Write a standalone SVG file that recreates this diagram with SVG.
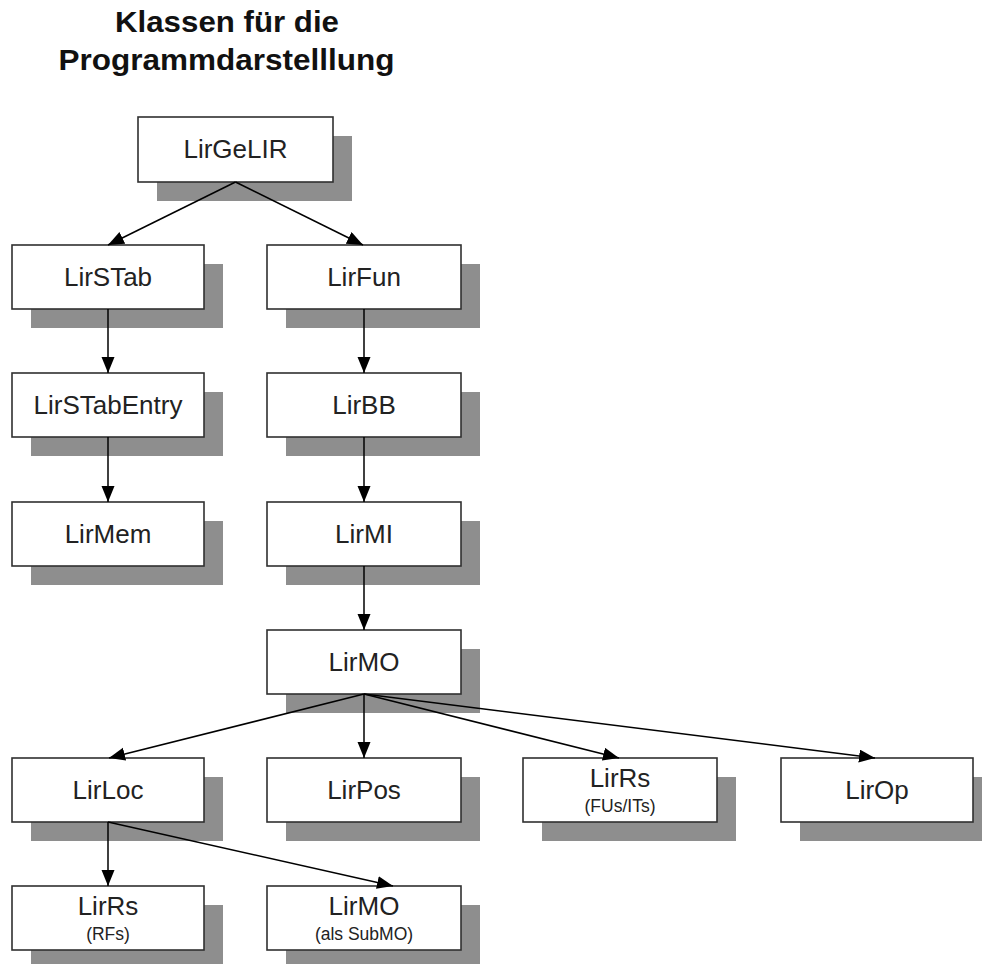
<svg xmlns="http://www.w3.org/2000/svg" width="982" height="964" viewBox="0 0 982 964">
  <style>
    .shadow { fill: #8e8e8e; }
    .box { fill: #ffffff; stroke: #303030; stroke-width: 1.6; }
    .label { font-family: "Liberation Sans", Arial, sans-serif; font-size: 26px; fill: #222222; text-anchor: middle; }
    .sub { font-family: "Liberation Sans", Arial, sans-serif; font-size: 17.5px; fill: #222222; text-anchor: middle; }
    .title { font-family: "Liberation Sans", Arial, sans-serif; font-size: 29px; font-weight: bold; fill: #111111; text-anchor: middle; }
    .edge { fill: none; stroke: #000000; stroke-width: 1.5; marker-end: url(#arrow); }
  </style>
  <defs>
    <marker id="arrow" markerUnits="userSpaceOnUse" markerWidth="17" markerHeight="14" refX="16" refY="6.5" orient="auto">
      <path d="M0,0 L16,6.5 L0,13 Z" fill="#000000"/>
    </marker>
  </defs>

  <rect width="982" height="964" fill="#ffffff"/>

  <g id="title">
    <text class="title" x="227" y="32" textLength="224" lengthAdjust="spacingAndGlyphs">Klassen für die</text>
    <text class="title" x="226.5" y="70" textLength="336" lengthAdjust="spacingAndGlyphs">Programmdarstelllung</text>
  </g>

  <g id="nodes">
    <g id="LirGeLIR">
      <rect class="shadow" x="157" y="136" width="195" height="65"/>
      <rect class="box" x="138" y="117" width="195" height="65"/>
      <text class="label" x="235.5" y="158">LirGeLIR</text>
    </g>
    <g id="LirSTab">
      <rect class="shadow" x="31" y="264" width="192" height="64"/>
      <rect class="box" x="12" y="245" width="192" height="64"/>
      <text class="label" x="108" y="286">LirSTab</text>
    </g>
    <g id="LirFun">
      <rect class="shadow" x="286" y="264" width="194" height="64"/>
      <rect class="box" x="267" y="245" width="194" height="64"/>
      <text class="label" x="364" y="286">LirFun</text>
    </g>
    <g id="LirSTabEntry">
      <rect class="shadow" x="31" y="392" width="192" height="64"/>
      <rect class="box" x="12" y="373" width="192" height="64"/>
      <text class="label" x="108" y="414">LirSTabEntry</text>
    </g>
    <g id="LirBB">
      <rect class="shadow" x="286" y="392" width="194" height="64"/>
      <rect class="box" x="267" y="373" width="194" height="64"/>
      <text class="label" x="364" y="414">LirBB</text>
    </g>
    <g id="LirMem">
      <rect class="shadow" x="31" y="521" width="192" height="64"/>
      <rect class="box" x="12" y="502" width="192" height="64"/>
      <text class="label" x="108" y="543">LirMem</text>
    </g>
    <g id="LirMI">
      <rect class="shadow" x="286" y="521" width="194" height="64"/>
      <rect class="box" x="267" y="502" width="194" height="64"/>
      <text class="label" x="364" y="543">LirMI</text>
    </g>
    <g id="LirMO">
      <rect class="shadow" x="286" y="649" width="194" height="64"/>
      <rect class="box" x="267" y="630" width="194" height="64"/>
      <text class="label" x="364" y="671">LirMO</text>
    </g>
    <g id="LirLoc">
      <rect class="shadow" x="31" y="777" width="192" height="64"/>
      <rect class="box" x="12" y="758" width="192" height="64"/>
      <text class="label" x="108" y="799">LirLoc</text>
    </g>
    <g id="LirPos">
      <rect class="shadow" x="286" y="777" width="194" height="64"/>
      <rect class="box" x="267" y="758" width="194" height="64"/>
      <text class="label" x="364" y="799">LirPos</text>
    </g>
    <g id="LirRs_FU">
      <rect class="shadow" x="542" y="777" width="194" height="64"/>
      <rect class="box" x="523" y="758" width="194" height="64"/>
      <text class="label" x="620" y="787">LirRs</text>
      <text class="sub" x="620" y="812">(FUs/ITs)</text>
    </g>
    <g id="LirOp">
      <rect class="shadow" x="800" y="777" width="192" height="64"/>
      <rect class="box" x="781" y="758" width="192" height="64"/>
      <text class="label" x="877" y="799">LirOp</text>
    </g>
    <g id="LirRs_RF">
      <rect class="shadow" x="31" y="905" width="192" height="64"/>
      <rect class="box" x="12" y="886" width="192" height="64"/>
      <text class="label" x="108" y="915">LirRs</text>
      <text class="sub" x="108" y="940">(RFs)</text>
    </g>
    <g id="LirMO_sub">
      <rect class="shadow" x="286" y="905" width="194" height="64"/>
      <rect class="box" x="267" y="886" width="194" height="64"/>
      <text class="label" x="364" y="915">LirMO</text>
      <text class="sub" x="364" y="940">(als SubMO)</text>
    </g>
  </g>

  <g id="connectors">
    <line class="edge" x1="235.5" y1="182" x2="108" y2="245"/>
    <line class="edge" x1="235.5" y1="182" x2="363" y2="245"/>
    <line class="edge" x1="108" y1="309" x2="108" y2="373"/>
    <line class="edge" x1="108" y1="437" x2="108" y2="502"/>
    <line class="edge" x1="364" y1="309" x2="364" y2="373"/>
    <line class="edge" x1="364" y1="437" x2="364" y2="502"/>
    <line class="edge" x1="364" y1="566" x2="364" y2="630"/>
    <line class="edge" x1="364" y1="694" x2="109" y2="758"/>
    <line class="edge" x1="364" y1="694" x2="364" y2="758"/>
    <line class="edge" x1="364" y1="694" x2="619" y2="758"/>
    <line class="edge" x1="364" y1="694" x2="875" y2="758"/>
    <line class="edge" x1="108" y1="822" x2="108" y2="886"/>
    <line class="edge" x1="108" y1="822" x2="393" y2="886"/>
  </g>
</svg>
